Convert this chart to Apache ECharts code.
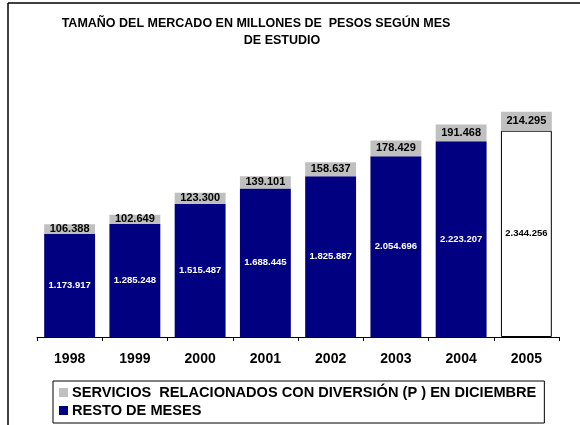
<!DOCTYPE html>
<html>
<head>
    <meta charset="utf-8">
    <title>Tamaño del mercado</title>
    <style>
        html, body { margin: 0; padding: 0; background: #fff; }
        #chart { width: 580px; height: 425px; }
    </style>
</head>
<body>
    <div id="chart"></div>
    <script src="https://cdn.jsdelivr.net/npm/echarts@6/dist/echarts.min.js"></script>
    <script>
        // datos
        var years = ['1998', '1999', '2000', '2001', '2002', '2003', '2004', '2005'];
        var resto = [1173917, 1285248, 1515487, 1688445, 1825887, 2054696, 2223207, 2344256];
        var servicios = [106388, 102649, 123300, 139101, 158637, 178429, 191468, 214295];

        var nameServicios = 'SERVICIOS  RELACIONADOS CON DIVERSIÓN (P ) EN DICIEMBRE';
        var nameResto = 'RESTO DE MESES';

        var font = 'Liberation Sans, Arial, sans-serif';

        function fmt(v) {
            return String(v).replace(/\B(?=(\d{3})+(?!\d))/g, '.');
        }

        // el ultimo año va en blanco con borde negro
        var restoData = resto.map(function (v, i) {
            if (i === resto.length - 1) {
                return {
                    value: v,
                    itemStyle: { color: '#fff', borderColor: '#000', borderWidth: 1 },
                    label: { color: '#000' }
                };
            }
            return v;
        });

        var myChart = echarts.init(document.getElementById('chart'));

        var option = {
            animation: false,
            title: [
                {
                    text: 'TAMAÑO DEL MERCADO EN MILLONES DE  PESOS SEGÚN MES',
                    left: 256, top: 17, textAlign: 'center', padding: 0,
                    textStyle: { fontFamily: font, fontSize: 12.5, fontWeight: 'bold', color: '#000' }
                },
                {
                    text: 'DE ESTUDIO',
                    left: 282, top: 34, textAlign: 'center', padding: 0,
                    textStyle: { fontFamily: font, fontSize: 12.5, fontWeight: 'bold', color: '#000' }
                }
            ],
            graphic: [
                { type: 'line', shape: { x1: 8, y1: 3, x2: 580, y2: 3 }, style: { stroke: '#000', lineWidth: 1.5 } },
                { type: 'line', shape: { x1: 8, y1: 3, x2: 8, y2: 425 }, style: { stroke: '#000', lineWidth: 1.5 } }
            ],
            legend: {
                data: [nameServicios, nameResto],
                orient: 'vertical',
                left: 53, top: 381,
                padding: [4, 8, 5, 6],
                itemWidth: 9, itemHeight: 9, itemGap: 3,
                borderColor: '#000', borderWidth: 1,
                icon: 'rect',
                textStyle: { fontFamily: font, fontSize: 14.6, lineHeight: 15, fontWeight: 'bold', color: '#000', padding: [0, 0, 0, -1] }
            },
            grid: { left: 37, right: 21, top: 73, bottom: 88 },
            xAxis: {
                type: 'category',
                data: years,
                axisLine: { lineStyle: { color: '#000', width: 1 } },
                axisTick: { show: true, length: 4, lineStyle: { color: '#000' } },
                axisLabel: { margin: 15, fontFamily: font, fontSize: 14, fontWeight: 'bold', color: '#000' }
            },
            yAxis: {
                type: 'value',
                min: 0, max: 3000000,
                show: false,
                splitLine: { show: false }
            },
            series: [
                {
                    name: nameResto,
                    type: 'bar',
                    stack: 'total',
                    barCategoryGap: '22%',
                    itemStyle: { color: '#000080' },
                    label: {
                        show: true, position: 'inside',
                        fontFamily: font, fontSize: 9.5, fontWeight: 'bold', color: '#fff',
                        formatter: function (p) { return fmt(p.value); }
                    },
                    data: restoData
                },
                {
                    name: nameServicios,
                    type: 'bar',
                    stack: 'total',
                    barCategoryGap: '22%',
                    itemStyle: { color: '#c0c0c0' },
                    label: {
                        show: true, position: 'inside',
                        fontFamily: font, fontSize: 11, fontWeight: 'bold', color: '#000',
                        formatter: function (p) { return fmt(p.value); }
                    },
                    data: servicios
                }
            ]
        };

        myChart.setOption(option);
    </script>
</body>
</html>
